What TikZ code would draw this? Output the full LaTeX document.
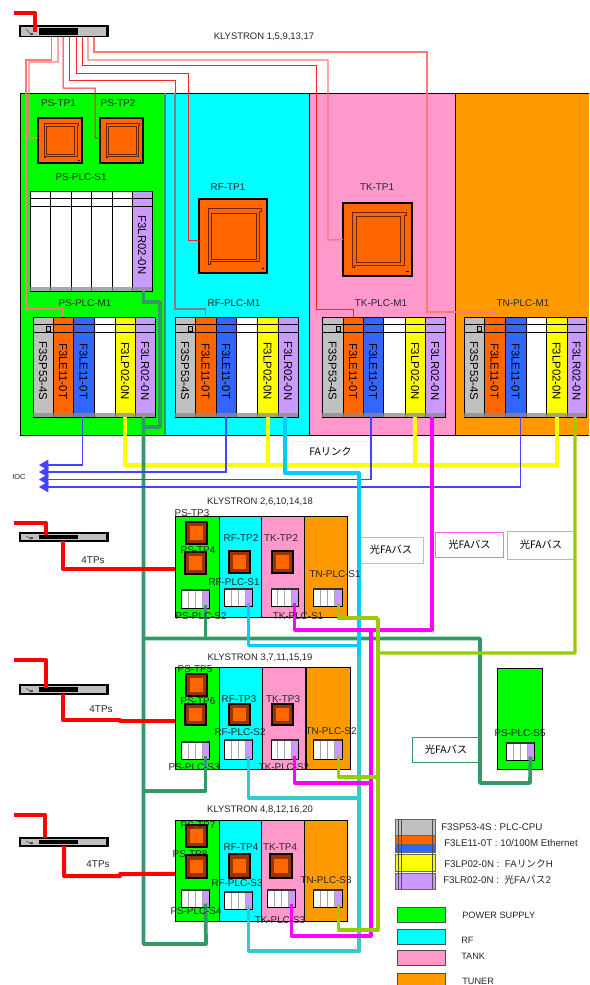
\documentclass[tikz,border=0pt]{standalone}
\usepackage{fontspec}
\setmainfont{Liberation Sans}
\newfontfamily\cjkf{Noto Sans CJK JP}
\usetikzlibrary{arrows.meta,calc}
\definecolor{cgreen}{HTML}{00FF00}
\definecolor{ccyan}{HTML}{00FFFF}
\definecolor{cpink}{HTML}{FF99CC}
\definecolor{corange}{HTML}{FF9900}
\definecolor{cmod}{HTML}{FF6600}
\definecolor{cblue}{HTML}{3366FF}
\definecolor{cyel}{HTML}{FFFF00}
\definecolor{cpur}{HTML}{CC99FF}
\definecolor{cgry}{HTML}{C0C0C0}
\definecolor{cbrown}{HTML}{993300}
\definecolor{ltrunk}{HTML}{339966}
\definecolor{lcy}{HTML}{00CCFF}
\definecolor{lturq}{HTML}{33CCCC}
\definecolor{lmag}{HTML}{FF00FF}
\definecolor{lyg}{HTML}{99CC00}
\definecolor{lred}{HTML}{FF2222}
\definecolor{lpale}{HTML}{FF7777}
\definecolor{lblue}{HTML}{4444FF}
\tikzset{
  x=.75pt,y=-.75pt,
  box/.style={inner sep=0pt,outer sep=0pt,anchor=north west},
  panel/.style={box,draw=black,line width=.6pt},
  modbox/.style={box,draw=black,line width=.7pt},
  modtext/.style={font=\fontsize{8.5}{9}\selectfont,inner sep=0pt,rotate=-90},
  lab/.style={font=\fontsize{7.4}{9}\selectfont,inner sep=0pt,text=black!85},
  kly/.style={lab,font=\fontsize{7.1}{9}\selectfont},
  ioclab/.style={lab,font=\fontsize{5.6}{7}\selectfont},
  leg/.style={lab,anchor=west,font=\fontsize{7.3}{9}\selectfont},
  legb/.style={lab,anchor=west,font=\fontsize{6.9}{9}\selectfont},
  fabox/.style={box,line width=.75pt,font=\fontsize{7.7}{9}\selectfont\cjkf,align=center},
  thick red/.style={draw=red,line width=3pt,line join=round},
  thin red/.style={draw=lred,line width=.75pt},
  pale red/.style={draw=lpale,line width=1pt},
  trunk/.style={draw=ltrunk,line width=2.8pt,line join=round},
  fayel/.style={draw=cyel,line width=3pt},
  cyline/.style={draw=lcy,line width=2.4pt,line join=round},
  tqline/.style={draw=lturq,line width=2.4pt,line join=round},
  magline/.style={draw=lmag,line width=2.4pt,line join=round},
  ygline/.style={draw=lyg,line width=2.4pt,line join=round},
  ioline/.style={draw=lblue,line width=.8pt,-{Triangle[length=7pt,width=8pt]}},
}
% rectangle node from pixel corners
\newcommand\bx[7]{%
  \pgfmathsetmacro\mw{(#4-#2)*.75}\pgfmathsetmacro\mh{(#5-#3)*.75}%
  \node[#6,minimum width=\mw pt,minimum height=\mh pt] (#1) at (#2,#3) {#7};}
% one rack module: name,x0,x1,y0,y1,colour,text
\newcommand\module[7]{%
  \bx{#1}{#2}{#4}{#3}{#5}{modbox,fill=#6}{}%
  \draw[line width=.6pt] (#2,#4+7) -- (#3,#4+7) (#2,#4+15) -- (#3,#4+15);%
  \fill[black!45,opacity=.75] (#2,#5-4) rectangle (#3,#5);%
  \node[modtext] (#1t) at ({(#2+#3)/2},#4+54) {#7};}
\def\parsemone#1,#2,#3,#4,#5,#6,#7\relax{%
  \pgfmathsetmacro\rkb{\rky+100}%
  \module{\rkp cpu}{#1}{#2}{\rky}{\rkb}{cgry}{F3SP53-4S}%
  \draw[line width=.5pt,fill=white!70!black] (#2-7,\rky+9) rectangle (#2-3,\rky+14);%
  \module{\rkp etha}{#2}{#3}{\rky}{\rkb}{cmod}{F3LE11-0T}%
  \module{\rkp ethb}{#3}{#4}{\rky}{\rkb}{cblue}{F3LE11-0T}%
  \module{\rkp bl}{#4}{#5}{\rky}{\rkb}{white}{}%
  \module{\rkp lp}{#5}{#6}{\rky}{\rkb}{cyel}{F3LP02-0N}%
  \module{\rkp lr}{#6}{#7}{\rky}{\rkb}{cpur}{F3LR02-0N}}
\newcommand\mrack[3]{\def\rkp{#1}\def\rky{#2}\parsemone#3\relax}
% small rack: prefix,x0,y0,x1,y1; (prefix p) is the port on its last module
\newcommand\srack[5]{%
  \pgfmathsetmacro\ra{#2+(#4-#2)*.25}\pgfmathsetmacro\rb{#2+(#4-#2)*.5}\pgfmathsetmacro\rc{#2+(#4-#2)*.75}%
  \bx{#1}{#2}{#3}{#4}{#5}{modbox,fill=white,line width=.6pt}{}%
  \bx{#1lr}{\rc}{#3}{#4}{#5}{box,fill=cpur}{}%
  \draw[black!35,line width=.7pt] (\ra,#3) -- (\ra,#5) (\rb,#3) -- (\rb,#5) (\rc,#3) -- (\rc,#5);%
  \draw[black,line width=.7pt] (#2,#5) -- (#4,#5);%
  \draw[black!80,line width=1.2pt] (#2,#3+1) -- (#4,#3+1);%
  \coordinate (#1p) at ($(#1lr.south)+(0,-3.5)$);}
% big touch panel
\newcommand\tpbig[5]{%
  \pgfmathsetmacro\w{#4-#2}\pgfmathsetmacro\h{#5-#3}%
  \bx{#1}{#2}{#3}{#4}{#5}{box,draw=black,line width=1.3pt,fill=cmod}{}%
  \draw[cbrown!70!black,line width=.7pt] (#2+.14*\w,#3+.88*\h) -- (#2+.14*\w,#3+.13*\h) -- (#2+.92*\w,#3+.13*\h) -- (#2+.92*\w,#3+.17*\h) -- (#2+.89*\w,#3+.17*\h) -- (#2+.89*\w,#3+.85*\h) -- (#2+.17*\w,#3+.85*\h) -- (#2+.17*\w,#3+.88*\h) -- cycle;%
  \draw[cbrown!70!black,line width=.7pt] (#2+.19*\w,#3+.19*\h) rectangle (#2+.84*\w,#3+.82*\h);%
  \fill (#2+.92*\w,#3+.93*\h) rectangle (#2+.96*\w,#3+.95*\h);}
% small touch panel
\newcommand\tpsmall[5]{%
  \pgfmathsetmacro\w{#4-#2}\pgfmathsetmacro\h{#5-#3}%
  \bx{#1}{#2}{#3}{#4}{#5}{box,draw=black,line width=.9pt,fill=cbrown}{}%
  \fill[cmod] (#2+.2*\w,#3+.2*\h) rectangle (#2+.8*\w,#3+.8*\h);}
% switch
\newcommand\switch[5]{%
  \bx{#1}{#2}{#3}{#4}{#5}{box,draw=black,line width=.8pt,fill=cgry}{}%
  \fill[black] (#2+19,#3+2) rectangle (#2+58,#5-2);%
  \draw[black!60,line width=.6pt] (#2+6,#3+3) -- (#2+11,#5-2);%
  \fill[black!70] (#2+10,#5-4) rectangle (#2+13,#5-2);%
  \draw[line width=.7pt] (#4-2,#3) -- (#4-2,#5);}
\newcommand\lab[4]{\node[lab] (#1) at (#2,#3) {#4};}
\newcommand\klab[4]{\node[kly] (#1) at (#2,#3) {#4};}
\newcommand\leg[4]{\node[leg] (#1) at (#2,#3) {#4};}
\newcommand\legb[4]{\node[legb] (#1) at (#2,#3) {#4};}
\begin{document}
\begin{tikzpicture}
\clip (0,0) rectangle (589,985);
\useasboundingbox (0,0) rectangle (589,985);
\fill[white] (0,0) rectangle (589,985);

% ---- main panels
\bx{pgreen}{20.5}{93}{165}{435}{panel,fill=cgreen}{}
\bx{pcyan}{165}{93}{309.5}{435}{panel,fill=ccyan}{}
\bx{ppink}{309.5}{93}{455.7}{435}{panel,fill=cpink}{}
\bx{porange}{455.7}{93}{595}{435}{panel,fill=corange}{}
\draw[ltrunk,line width=1.1pt] (pgreen.north east) -- (pgreen.south east);

\tpbig{tpa}{38}{118}{82}{163}
\tpbig{tpb}{100}{118}{143}{163}
\tpbig{rftp}{199}{199}{267}{273}
\tpbig{tktp}{343}{203}{412}{276}

% S1 rack
\foreach \nm/\xa/\xb in {sa/30/50,sb/50/71,sc/71/91,sd/91/112,se/112/132}{
  \module{\nm}{\xa}{\xb}{191}{291}{white}{}
}
\module{pss1lr}{132}{152}{191}{291}{cpur}{F3LR02-0N}

% M1 racks
\mrack{psm}{317}{33,53,73,94,115,135,155}
\mrack{rfm}{317}{175,195,216,236,257,278,298}
\mrack{tkm}{317}{322,343,363,383,405,425,445}
\mrack{tnm}{317}{464,484,505,526,546,567,586}

% ---- klystron groups
\bx{gap}{175}{516}{219}{617}{panel,fill=cgreen}{}
\bx{gac}{219}{516}{261}{617}{panel,fill=ccyan}{}
\bx{gak}{261}{516}{304}{617}{panel,fill=cpink}{}
\bx{gat}{304}{516}{347.5}{617}{panel,fill=corange}{}
\bx{gbp}{175}{667}{219}{769}{panel,fill=cgreen}{}
\bx{gbc}{219}{667}{262.5}{769}{panel,fill=ccyan}{}
\bx{gbk}{262.5}{667}{305}{769}{panel,fill=cpink}{}
\bx{gbt}{306}{667}{350}{769}{panel,fill=corange}{}
\bx{gcp}{175}{820}{219}{921}{panel,fill=cgreen}{}
\bx{gcc}{219}{820}{261}{921}{panel,fill=ccyan}{}
\bx{gck}{261}{820}{304}{921}{panel,fill=cpink}{}
\bx{gct}{304}{820}{347}{921}{panel,fill=corange}{}
\bx{gdp}{497}{668}{542}{769}{panel,fill=cgreen}{}

\tpsmall{tp3}{186}{522}{207}{544}
\tpsmall{tp4}{185}{552}{206}{574}
\tpsmall{tprf2}{229}{551}{250}{573}
\tpsmall{tptk2}{272}{551}{293}{573}
\tpsmall{tp5}{186}{674}{207}{696}
\tpsmall{tp6}{185}{704}{206}{725}
\tpsmall{tprf3}{229}{704}{250}{725}
\tpsmall{tptk3}{272}{704}{293}{725}
\tpsmall{tp7}{186}{825}{207}{847}
\tpsmall{tp8}{186}{855}{207}{878}
\tpsmall{tprf4}{229}{854}{250}{878}
\tpsmall{tptk4}{270}{854}{292}{878}

\srack{pssb}{181}{589}{209}{608}
\srack{rfsa}{224}{588}{252}{606}
\srack{tksa}{271}{588}{298}{606}
\srack{tnsa}{313}{588}{342}{606}
\srack{pssc}{181}{741}{209}{759}
\srack{rfsb}{224}{739}{252}{759}
\srack{tksb}{271}{739}{298}{759}
\srack{tnsb}{313}{739}{342}{759}
\srack{pssd}{181}{889}{209}{907}
\srack{rfsc}{224}{891}{252}{909}
\srack{tksc}{267}{889}{295}{907}
\srack{tnsc}{313}{889}{342}{907}
\srack{psse}{506}{742}{534}{760}

% ---- switches
\switch{swa}{20}{26}{108}{36.5}
\switch{swb}{20}{533}{108}{541}
\switch{swc}{20}{685}{108}{694}
\switch{swd}{20}{838}{108}{846}

% ---- fibre boxes
\bx{boxfa}{291}{441}{370}{463}{fabox,draw=cyel!40}{FAリンク}
\bx{boxcy}{359}{537}{423}{563}{fabox,draw=lcy!60}{光FAバス}
\bx{boxmg}{435.5}{532}{503.5}{557}{fabox,draw=lmag!60}{光FAバス}
\bx{boxyg}{507}{531}{575}{559}{fabox,draw=lyg!80}{光FAバス}
\bx{boxgr}{412}{737}{480}{762}{fabox,draw=ltrunk,line width=.6pt}{光FAバス}

% ---- coordinates
\coordinate (trk) at (143.5,427);
\coordinate (trb) at (143.5,638.5);
\coordinate (trc) at (143.5,791);
\coordinate (cyb) at (359,645.5);
\coordinate (cyc) at (359,656);
\coordinate (mgb) at (371,630);
\coordinate (ygb) at (378,618);
\coordinate (ygc) at (378,653);
\coordinate (ioa) at (39,465);
\coordinate (iob) at (39,472);
\coordinate (ioc) at (39,479.5);
\coordinate (iod) at (39,487);
\coordinate (sap) at (51.5,37);
\coordinate (sbp) at (58,37);
\coordinate (scp) at (63,37);
\coordinate (sdp) at (69,37);
\coordinate (sep) at (76,37);
\coordinate (sfp) at (82,37);
\coordinate (sgp) at (88,37);
\coordinate (shp) at (94,37);
\coordinate (fa) at (14,13);
\coordinate (fb) at (14,523);
\coordinate (fc) at (14,660);
\coordinate (fd) at (14,815);
\coordinate (ina) at (35,32);
\coordinate (inb) at (46,535);
\coordinate (inc) at (46,688);
\coordinate (ind) at (45,838);
\coordinate (otb) at (63,541);
\coordinate (otc) at (63,694);
\coordinate (otd) at (64,846);

% ---- yellow FA link
\draw[fayel] (psmlp.south) -- ++(0,48) -| (tnmlp.south);
\draw[fayel] (rfmlp.south) -- ++(0,48);
\draw[fayel] (tkmlp.south) -- ++(0,48);

% ---- trunk
\draw[trunk] (pss1lr.south -| trk) -- (143.5,302) -- (160,302) -- (160,427) -- (trk);
\draw[trunk] (psmlr.south -| trk) -- (143.5,944) -- (206,944) -- (pssdp);
\draw[trunk] (trb) -- (480,638.5) -- (480,783) -- (530,783) -- (pssep);
\draw[trunk] (pssbp) -- (pssbp |- trb);
\draw[trunk] (psscp) |- (trc);

% ---- thin red ethernet
\draw[pale red] (sap) -- (51.5,60) -- (26,60) -- (26,309) -| (psmetha.north);
\draw[pale red] (sbp) -- (58,62) -- (29,62) -- (29,138) -- ([yshift=1.9pt]tpa.west);
\draw[thin red] (scp) -- (63,88) -- (95,88) -- (95,138) -- ([yshift=1.9pt]tpb.west);
\draw[draw=black!50,line width=1pt] (175,93) -- (175,309) -| (rfmetha.north);
\draw[thin red] (sdp) -- (69,80) -- (175,80) -- (175,93);
\draw[thin red] (sep) -- (76,73) -- (188,73) -- (188,240) -- ([yshift=-3pt]rftp.west);
\draw[thin red] (sfp) -- (82,65) -- (316,65) -- (316,309) -| (tkmetha.north);
\draw[pale red] (sgp) -- (88,60) -- (328,60) -- (328,240) -- (tktp.west);
\draw[pale red] (shp) -- (94,52) -- (427,52) -- (427,312) -| (tnmetha.north);

% ---- thick red
\draw[thick red] (fa) -| (ina);
\draw[thick red] (fb) -| (inb);
\draw[thick red] (fc) -| (inc);
\draw[thick red] (fd) -| (ind);
\draw[thick red] (otb) |- ([yshift=-1.9pt]gap.west);
\draw[thick red] (otc) -- (63,720) -- (120,720) -- (120,721) -- ([yshift=-2.25pt]gbp.west);
\draw[thick red] (otd) -- (64,876) -- (120,876) -- (120,874) -- ([yshift=-2.6pt]gcp.west);

% ---- IO
\draw[ioline] ([xshift=-1.1pt]psmethb.south) |- (ioa);
\draw[ioline] (rfmethb.south) |- (iob);
\draw[ioline] ([xshift=-1.5pt]tkmethb.south) |- (ioc);
\draw[ioline] ([xshift=3.4pt]tnmethb.south) |- (iod);

% ---- optical lines
\draw[cyline] ([xshift=-2.25pt]rfmlr.south) -- ++(0,56) -- (359,473) -- (cyc);
\draw[cyline] (rfsap) -- (rfsap |- cyb) -- (cyb);
\draw[tqline] (cyc) -- (359,951) -| (rfscp);
\draw[tqline] (rfsbp) |- (359,798);
\draw[magline] ([xshift=-2.25pt]tkmlr.south) -- (432,630) -| (tksap);
\draw[magline] (mgb) -- (371,936) -| (tkscp);
\draw[magline] (371,783) -| (tksbp);
\draw[ygline] ([xshift=-1.1pt]tnmlr.south) -- (575,653) -- (ygc);
\draw[ygline] (ygb) -- (378,930) -| (tnscp);
\draw[ygline] (tnsap) |- (ygb);
\draw[ygline] (tnsbp) |- (378,777);

% ---- labels
\klab{kla}{264}{37}{KLYSTRON 1,5,9,13,17}
\lab{la1}{58.5}{103}{PS-TP1}
\lab{la2}{118}{103}{PS-TP2}
\lab{la3}{81}{177}{PS-PLC-S1}
\lab{la4}{228}{187}{RF-TP1}
\lab{la5}{377}{187}{TK-TP1}
\lab{la6}{85}{303}{PS-PLC-M1}
\lab{la7}{234}{303}{RF-PLC-M1}
\lab{la8}{381}{303}{TK-PLC-M1}
\lab{la9}{523}{303}{TN-PLC-M1}
\node[ioclab] (lio) at (19,477) {IOC};
\klab{klb}{260}{502}{KLYSTRON 2,6,10,14,18}
\lab{lb1}{192}{513}{PS-TP3}
\lab{lb2}{198}{550}{PS-TP4}
\lab{lb3}{241}{538}{RF-TP2}
\lab{lb4}{281}{538}{TK-TP2}
\lab{lb5}{234}{582}{RF-PLC-S1}
\lab{lb6}{201}{616}{PS-PLC-S2}
\lab{lb7}{298}{616}{TK-PLC-S1}
\lab{lb8}{335}{574}{TN-PLC-S1}
\lab{lb9}{93}{560}{4TPs}
\klab{klc}{260}{658}{KLYSTRON 3,7,11,15,19}
\lab{lc1}{195}{669}{PS-TP5}
\lab{lc2}{198}{701}{PS-TP6}
\lab{lc3}{239}{699}{RF-TP3}
\lab{lc4}{283}{699}{TK-TP3}
\lab{lc5}{240}{732}{RF-PLC-S2}
\lab{lc6}{331}{731}{TN-PLC-S2}
\lab{lc7}{194}{767}{PS-PLC-S3}
\lab{lc8}{284}{767}{TK-PLC-S2}
\lab{lc9}{101}{709}{4TPs}
\klab{kld}{260}{810}{KLYSTRON 4,8,12,16,20}
\lab{ld1}{198}{825}{PS-TP7}
\lab{ld2}{190}{854}{PS-TP8}
\lab{ld3}{241}{847}{RF-TP4}
\lab{ld4}{280}{847}{TK-TP4}
\lab{ld5}{237}{883}{RF-PLC-S3}
\lab{ld6}{326}{880}{TN-PLC-S3}
\lab{ld7}{196}{911}{PS-PLC-S4}
\lab{ld8}{280}{920}{TK-PLC-S3}
\lab{ld9}{98}{864}{4TPs}
\lab{le1}{520}{733}{PS-PLC-S5}

% ---- legend
\bx{kga}{395}{819}{435}{835}{modbox,fill=cgry,draw=black!60}{}
\bx{kgb}{395}{835}{435}{844}{modbox,fill=cmod,draw=black!60}{}
\bx{kgc}{395}{844}{435}{852}{modbox,fill=cblue,draw=black!60}{}
\bx{kgd}{395}{854}{435}{871}{modbox,fill=cyel,draw=black!60}{}
\bx{kge}{395}{873}{435}{889}{modbox,fill=cpur,draw=black!60}{}
\draw[black!70,line width=.6pt] (398,819) -- (398,889) (401.5,819) -- (401.5,889) (432.5,819) -- (432.5,889);
\leg{ka}{441}{827}{F3SP53-4S : PLC-CPU}
\leg{kb}{444}{843}{F3LE11-0T : 10/100M Ethernet}
\leg{kc}{444}{864}{F3LP02-0N :\ \ FA{\cjkf リンク}H}
\leg{kd}{443}{880}{F3LR02-0N :\ \ {\cjkf 光}FA{\cjkf バス}2}
\bx{swg}{397}{907}{445}{922}{modbox,fill=cgreen,draw=black!70}{}
\bx{swh}{397}{929}{445}{944}{modbox,fill=ccyan,draw=black!70}{}
\bx{swi}{397}{950}{445}{965}{modbox,fill=cpink,draw=black!70}{}
\bx{swj}{397}{973}{445}{990}{modbox,fill=corange,draw=black!70}{}
\legb{kf}{462}{915}{POWER SUPPLY}
\legb{kg}{461}{940}{RF}
\legb{kh}{461}{956}{TANK}
\legb{ki}{462}{981}{TUNER}
\end{tikzpicture}
\end{document}
